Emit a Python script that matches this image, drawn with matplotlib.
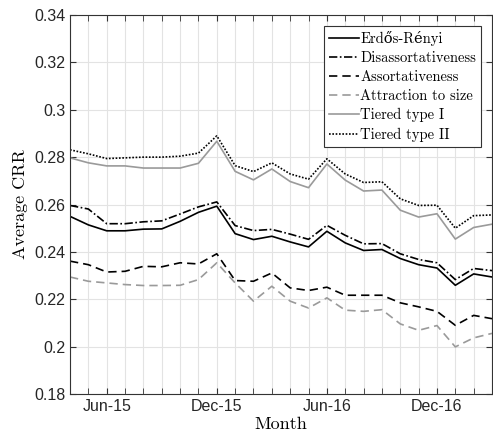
import numpy as np
import matplotlib
matplotlib.use('Agg')
from matplotlib import pyplot as plt
from matplotlib.ticker import FixedLocator

months = ['Apr-15', 'May-15', 'Jun-15', 'Jul-15', 'Aug-15', 'Sep-15',
          'Oct-15', 'Nov-15', 'Dec-15', 'Jan-16', 'Feb-16', 'Mar-16',
          'Apr-16', 'May-16', 'Jun-16', 'Jul-16', 'Aug-16', 'Sep-16',
          'Oct-16', 'Nov-16', 'Dec-16', 'Jan-17', 'Feb-17', 'Mar-17']

erdos_renyi = [0.2550, 0.2514, 0.2489, 0.2489, 0.2496, 0.2497, 0.2529, 0.2567,
               0.2593, 0.2477, 0.2452, 0.2466, 0.2442, 0.2421, 0.2487, 0.2438,
               0.2406, 0.2410, 0.2372, 0.2346, 0.2332, 0.2259, 0.2307, 0.2294]
disassort = [0.2596, 0.2581, 0.2519, 0.2519, 0.2527, 0.2531, 0.2560, 0.2590,
             0.2611, 0.2511, 0.2490, 0.2495, 0.2475, 0.2453, 0.2512, 0.2470,
             0.2434, 0.2435, 0.2392, 0.2368, 0.2354, 0.2283, 0.2330, 0.2321]
assort = [0.2361, 0.2346, 0.2315, 0.2318, 0.2339, 0.2337, 0.2354, 0.2349,
          0.2392, 0.2279, 0.2276, 0.2311, 0.2248, 0.2237, 0.2251, 0.2217,
          0.2217, 0.2217, 0.2185, 0.2168, 0.2149, 0.2090, 0.2132, 0.2118]
attraction = [0.2294, 0.2276, 0.2269, 0.2262, 0.2258, 0.2258, 0.2259, 0.2283,
              0.2354, 0.2269, 0.2192, 0.2255, 0.2192, 0.2163, 0.2206, 0.2154,
              0.2149, 0.2156, 0.2096, 0.2069, 0.2089, 0.1999, 0.2037, 0.2056]
tiered_1 = [0.2797, 0.2776, 0.2763, 0.2763, 0.2754, 0.2754, 0.2754, 0.2774,
            0.2867, 0.2740, 0.2704, 0.2750, 0.2697, 0.2671, 0.2771, 0.2703,
            0.2657, 0.2661, 0.2576, 0.2547, 0.2561, 0.2454, 0.2503, 0.2517]
tiered_2 = [0.2831, 0.2814, 0.2794, 0.2797, 0.2800, 0.2800, 0.2804, 0.2817,
            0.2890, 0.2764, 0.2739, 0.2776, 0.2729, 0.2707, 0.2793, 0.2729,
            0.2693, 0.2696, 0.2624, 0.2596, 0.2597, 0.2500, 0.2553, 0.2556]

labels = ['Erdős-Rényi', 'Disassortativeness', 'Assortativeness',
          'Attraction to size', 'Tiered type I', 'Tiered type II']
shown_ticks = ['Jun-15', 'Dec-15', 'Jun-16', 'Dec-16']
y_ticks = [0.18, 0.20, 0.22, 0.24, 0.26, 0.28, 0.30, 0.32, 0.34]
y_ticklabels = ['0.18', '0.2', '0.22', '0.24', '0.26', '0.28', '0.3', '0.32', '0.34']

serif = ['cmr10', 'DejaVu Serif']
gray = '#9a9a9a'

fig = plt.figure(figsize=(4.93, 4.48), dpi=100)
ax = fig.add_axes([0.142, 0.1205, 0.856, 0.846])

x = np.arange(len(months))
lw = 1.2
ax.plot(x, erdos_renyi, color='black', lw=lw, ls='-')
ax.plot(x, disassort, color='black', lw=lw, ls=(0, (5, 1.5, 1, 1.5)))
ax.plot(x, assort, color='black', lw=lw, ls=(0, (5, 3)))
ax.plot(x, attraction, color=gray, lw=lw, ls=(0, (5, 3)))
ax.plot(x, tiered_1, color=gray, lw=lw, ls='-')
ax.plot(x, tiered_2, color='black', lw=lw, ls=(0, (1, 1)))

ax.set_xlim(0, len(months) - 1)
ax.set_ylim(0.18, 0.34)
ax.set_yticks(y_ticks)
ax.set_yticklabels(y_ticklabels, fontfamily='Liberation Sans', fontsize=11.5)

tick_pos = [months.index(m) for m in shown_ticks]
ax.set_xticks(tick_pos)
ax.set_xticklabels(shown_ticks, fontfamily='Liberation Sans', fontsize=11.5)
ax.xaxis.set_minor_locator(FixedLocator(x))

ax.grid(True, which='both', color='#e3e3e3', lw=0.8)
ax.set_axisbelow(True)
ax.tick_params(which='both', direction='in', top=True, right=True,
               color='#333333', length=4, labelcolor='#262626')
ax.tick_params(axis='y', which='minor', left=False, right=False)
for s in ax.spines.values():
    s.set_color('#333333')
    s.set_linewidth(0.8)

ax.set_xlabel('Month', fontfamily=serif, fontsize=13, labelpad=2)
ax.set_ylabel('Average CRR', fontfamily=serif, fontsize=13, labelpad=4)

leg = ax.legend(labels, loc='upper right', prop={'family': serif, 'size': 10.5},
                fancybox=False, edgecolor='#333333', framealpha=1,
                handlelength=2.0, handletextpad=0.1, labelspacing=0.36,
                borderpad=0.35, borderaxespad=0.75)
leg.get_frame().set_linewidth(0.8)

plt.savefig('out.png', dpi=100)
